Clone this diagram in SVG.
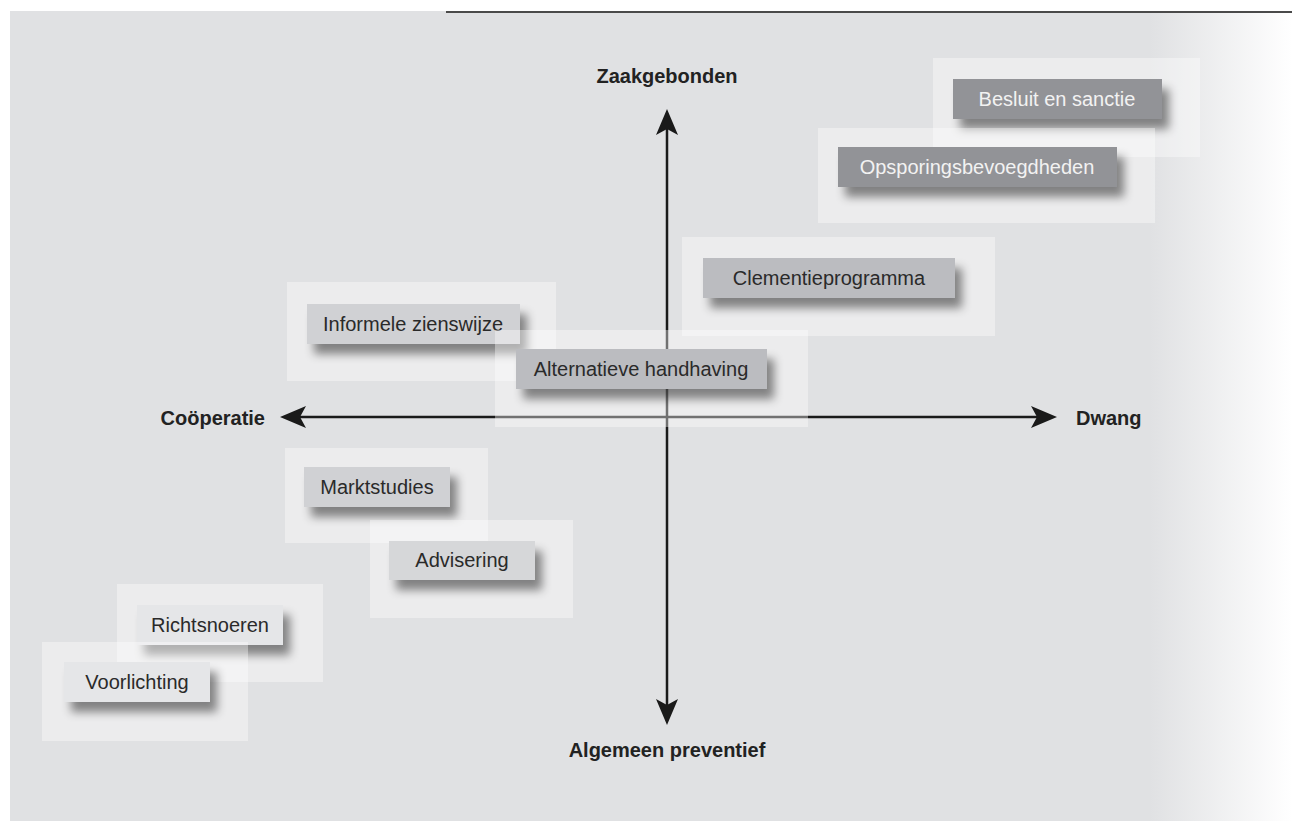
<svg xmlns="http://www.w3.org/2000/svg" width="1292" height="821" viewBox="0 0 1292 821">
<defs>
<linearGradient id="bgGrad" gradientUnits="userSpaceOnUse" x1="1150" y1="0" x2="1292" y2="0">
<stop offset="0" stop-color="#e0e1e3"/>
<stop offset="1" stop-color="#ffffff"/>
</linearGradient>
<filter id="shadow" x="-20%" y="-40%" width="150%" height="220%">
<feDropShadow dx="7" dy="10" stdDeviation="5" flood-color="#000" flood-opacity="0.45"/>
</filter>
<marker id="arrow" markerUnits="userSpaceOnUse" viewBox="0 0 26 22" markerWidth="26" markerHeight="22" refX="6" refY="11" orient="auto-start-reverse">
<path d="M0,0 L26,11 L0,22 L6,11 Z" fill="#1a1a1a"/>
</marker>
<style>
.panel{fill:#ffffff;fill-opacity:0.38}
.box{filter:url(#shadow)}
.dark{fill:#929397}
.mid{fill:#bbbcc0}
.light{fill:#d0d1d4}
.lighter{fill:#d6d7d9}
.pale{fill:#e5e6e8}
.t{font-family:"Liberation Sans",Arial,sans-serif;font-size:20px;text-anchor:middle;fill:#2a2a2a}
.tw{fill:#f2f2f2}
.ax{font-family:"Liberation Sans",Arial,sans-serif;font-size:20px;font-weight:bold;fill:#222}
.axis{stroke:#1a1a1a;stroke-width:2.5;fill:none}
</style>
</defs>
<rect x="10" y="11" width="1282" height="810" fill="url(#bgGrad)"/>
<line x1="446" y1="12" x2="1292" y2="12" stroke="#4a4a4a" stroke-width="2"/>

<g id="connectors">
<line class="axis" x1="667" y1="129" x2="667" y2="705" marker-start="url(#arrow)" marker-end="url(#arrow)"/>
<line class="axis" x1="300" y1="417" x2="1037" y2="417" marker-start="url(#arrow)" marker-end="url(#arrow)"/>
</g>

<g id="axis-labels">
<text class="ax" x="667" y="83" text-anchor="middle">Zaakgebonden</text>
<text class="ax" x="667" y="757" text-anchor="middle">Algemeen preventief</text>
<text class="ax" x="265" y="425" text-anchor="end">Coöperatie</text>
<text class="ax" x="1076" y="425">Dwang</text>
</g>

<g id="node-richtsnoeren">
<rect class="panel" x="117" y="584" width="206" height="98"/>
<rect class="box pale" x="137" y="605" width="146" height="40"/>
<text class="t" x="210" y="632">Richtsnoeren</text>
</g>
<g id="node-voorlichting">
<rect class="panel" x="42" y="642" width="206" height="99"/>
<rect class="box pale" x="64" y="662" width="146" height="40"/>
<text class="t" x="137" y="689">Voorlichting</text>
</g>
<g id="node-marktstudies">
<rect class="panel" x="285" y="448" width="203" height="95"/>
<rect class="box light" x="304" y="467" width="146" height="40"/>
<text class="t" x="377" y="494">Marktstudies</text>
</g>
<g id="node-advisering">
<rect class="panel" x="370" y="520" width="203" height="98"/>
<rect class="box lighter" x="389" y="541" width="146" height="39"/>
<text class="t" x="462" y="567">Advisering</text>
</g>
<g id="node-informele">
<rect class="panel" x="287" y="282" width="269" height="99"/>
<rect class="box light" x="307" y="304" width="213" height="40"/>
<text class="t" x="413" y="331">Informele zienswijze</text>
</g>
<g id="node-alternatieve">
<rect class="panel" x="495" y="330" width="313" height="97"/>
<rect class="box mid" x="516" y="349" width="251" height="40"/>
<text class="t" x="641" y="376">Alternatieve handhaving</text>
</g>
<g id="node-clementie">
<rect class="panel" x="682" y="237" width="313" height="99"/>
<rect class="box mid" x="703" y="258" width="252" height="40"/>
<text class="t" x="829" y="285">Clementieprogramma</text>
</g>
<g id="node-besluit">
<rect class="panel" x="933" y="58" width="267" height="99"/>
<rect class="box dark" x="953" y="79" width="209" height="40"/>
<text class="t tw" x="1057" y="106">Besluit en sanctie</text>
</g>
<g id="node-opsporing">
<rect class="panel" x="818" y="128" width="337" height="95"/>
<rect class="box dark" x="838" y="147" width="279" height="40"/>
<text class="t tw" x="977" y="174">Opsporingsbevoegdheden</text>
</g>
</svg>
